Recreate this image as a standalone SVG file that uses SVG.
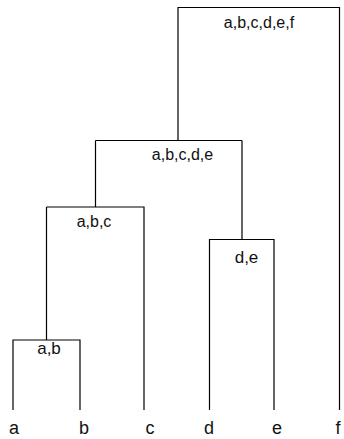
<svg xmlns="http://www.w3.org/2000/svg" width="344" height="439" viewBox="0 0 344 439">
<style>
.l{fill:none;stroke:#000;stroke-width:1.2}
.t{font-family:"Liberation Sans",Arial,sans-serif;font-size:16px;fill:#111;text-anchor:middle}
.s{font-size:17px}
.leaf{font-family:"Liberation Sans",Arial,sans-serif;font-size:18px;fill:#111;text-anchor:middle}
</style>
<rect width="344" height="439" fill="#fff"/>
<g id="connectors">
<path class="l" d="M13,410V340H80V410M46.5,340V207"/>
<path class="l" d="M46.5,207H144V410M95.5,207V140.5"/>
<path class="l" d="M209.5,410V239.5H274V410M242,239.5V140.5"/>
<path class="l" d="M95.5,140.5H242M178,140.5V7.5H339.5V410"/>
</g>
<g id="n_ab"><text class="t s" x="49" y="354">a,b</text></g>
<g id="n_abc"><text class="t" x="94" y="227">a,b,c</text></g>
<g id="n_de"><text class="t s" x="246.5" y="262.5">d,e</text></g>
<g id="n_abcde"><text class="t" x="182.5" y="160">a,b,c,d,e</text></g>
<g id="n_abcdef"><text class="t" x="259" y="28">a,b,c,d,e,f</text></g>
<g id="leaf_a"><text class="leaf" x="14" y="434">a</text></g>
<g id="leaf_b"><text class="leaf" x="84" y="434">b</text></g>
<g id="leaf_c"><text class="leaf" x="150" y="434">c</text></g>
<g id="leaf_d"><text class="leaf" x="209" y="434">d</text></g>
<g id="leaf_e"><text class="leaf" x="277" y="434">e</text></g>
<g id="leaf_f"><text class="leaf" x="338" y="434">f</text></g>
</svg>
